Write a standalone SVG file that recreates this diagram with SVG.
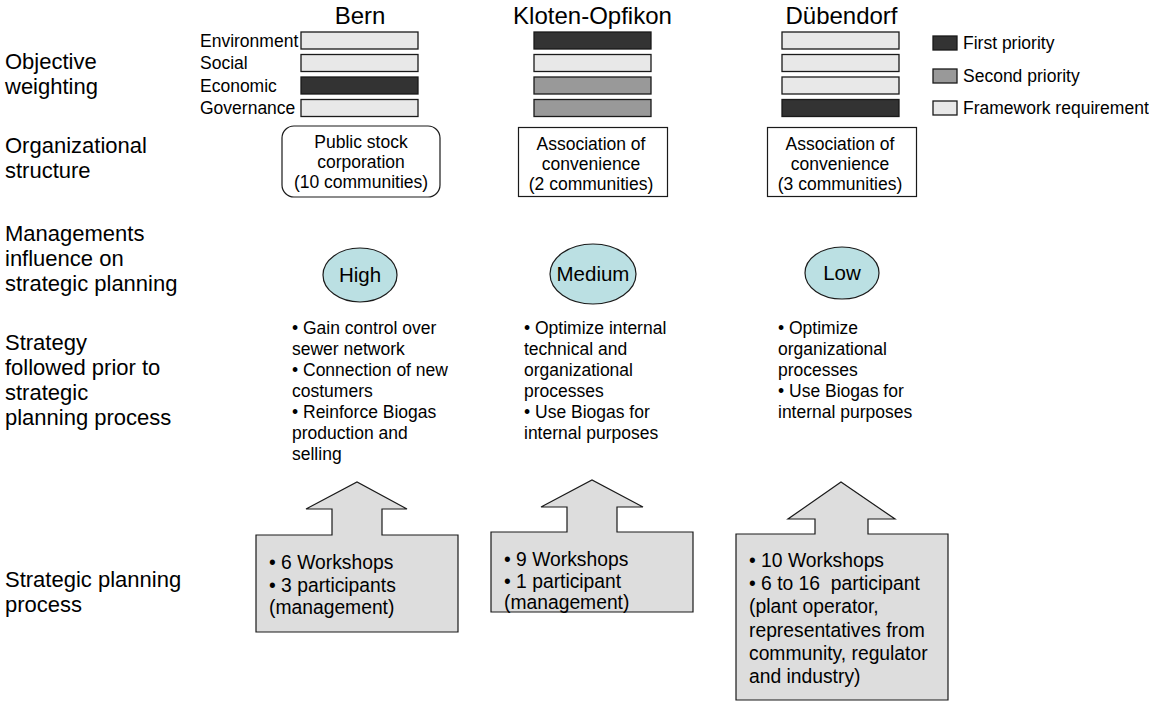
<svg xmlns="http://www.w3.org/2000/svg" width="1149" height="704" viewBox="0 0 1149 704">
  <style>
    text { font-family: "Liberation Sans", Arial, sans-serif; fill: #000; }
    .row { font-size: 22px; }
    .head { font-size: 24px; text-anchor: middle; }
    .lbl { font-size: 17.5px; }
    .body { font-size: 17.5px; }
    .mid { text-anchor: middle; }
    .big { font-size: 20.5px; text-anchor: middle; }
    .proc { font-size: 19.3px; }
    .bar { stroke: #1a1a1a; stroke-width: 1.3; }
    .p1 { fill: #333333; }
    .p2 { fill: #999999; }
    .p3 { fill: #e8e8e8; }
    .org { fill: #ffffff; stroke: #1a1a1a; stroke-width: 1.2; }
    .lvl { fill: #bbe0e3; stroke: #1a1a1a; stroke-width: 1.2; }
    .arrow { fill: #dddddd; stroke: #1a1a1a; stroke-width: 1.2; }
  </style>

  <!-- row headings -->
  <g id="row-labels" class="row">
    <text x="5" y="69">Objective</text>
    <text x="5" y="94">weighting</text>
    <text x="5" y="153">Organizational</text>
    <text x="5" y="178">structure</text>
    <text x="5" y="241">Managements</text>
    <text x="5" y="266">influence on</text>
    <text x="5" y="291">strategic planning</text>
    <text x="5" y="350">Strategy</text>
    <text x="5" y="375">followed prior to</text>
    <text x="5" y="400">strategic</text>
    <text x="5" y="425">planning process</text>
    <text x="5" y="587">Strategic planning</text>
    <text x="5" y="612">process</text>
  </g>

  <!-- objective names -->
  <g id="objective-labels" class="lbl">
    <text x="200" y="46.5">Environment</text>
    <text x="200" y="69">Social</text>
    <text x="200" y="91.5">Economic</text>
    <text x="200" y="114">Governance</text>
  </g>

  <!-- column headers -->
  <g id="headers" class="head">
    <text x="360" y="24">Bern</text>
    <text x="592.5" y="24">Kloten-Opfikon</text>
    <text x="841.5" y="24">Dübendorf</text>
  </g>

  <!-- weighting bars -->
  <g id="weights-bern">
    <rect class="bar p3" x="301" y="32" width="117" height="17"/>
    <rect class="bar p3" x="301" y="54.5" width="117" height="17"/>
    <rect class="bar p1" x="301" y="77" width="117" height="17"/>
    <rect class="bar p3" x="301" y="99.5" width="117" height="17"/>
  </g>
  <g id="weights-kloten">
    <rect class="bar p1" x="534" y="32" width="117" height="17"/>
    <rect class="bar p3" x="534" y="54.5" width="117" height="17"/>
    <rect class="bar p2" x="534" y="77" width="117" height="17"/>
    <rect class="bar p2" x="534" y="99.5" width="117" height="17"/>
  </g>
  <g id="weights-duebendorf">
    <rect class="bar p3" x="782" y="32" width="117" height="17"/>
    <rect class="bar p3" x="782" y="54.5" width="117" height="17"/>
    <rect class="bar p3" x="782" y="77" width="117" height="17"/>
    <rect class="bar p1" x="782" y="99.5" width="117" height="17"/>
  </g>

  <!-- legend -->
  <g id="legend" class="lbl">
    <rect class="bar p1" x="933" y="36" width="24" height="14"/>
    <text x="963" y="49">First priority</text>
    <rect class="bar p2" x="933" y="69" width="24" height="14"/>
    <text x="963" y="82">Second priority</text>
    <rect class="bar p3" x="933" y="101" width="24" height="14"/>
    <text x="963" y="114">Framework requirement</text>
  </g>

  <!-- organizational structure -->
  <g id="org-bern">
    <rect class="org" x="282" y="126" width="158" height="71" rx="12"/>
    <text class="body mid" x="361" y="148">Public stock</text>
    <text class="body mid" x="361" y="168">corporation</text>
    <text class="body mid" x="361" y="188">(10 communities)</text>
  </g>
  <g id="org-kloten">
    <rect class="org" x="518.5" y="127.5" width="149" height="69"/>
    <text class="body mid" x="591" y="150">Association of</text>
    <text class="body mid" x="591" y="170">convenience</text>
    <text class="body mid" x="591" y="190">(2 communities)</text>
  </g>
  <g id="org-duebendorf">
    <rect class="org" x="767.5" y="127.5" width="149" height="69"/>
    <text class="body mid" x="840" y="150">Association of</text>
    <text class="body mid" x="840" y="170">convenience</text>
    <text class="body mid" x="840" y="190">(3 communities)</text>
  </g>

  <!-- management influence -->
  <g id="influence-bern">
    <ellipse class="lvl" cx="360" cy="275" rx="37" ry="27"/>
    <text class="big" x="360" y="282">High</text>
  </g>
  <g id="influence-kloten">
    <ellipse class="lvl" cx="593" cy="274" rx="43" ry="30"/>
    <text class="big" x="593" y="281">Medium</text>
  </g>
  <g id="influence-duebendorf">
    <ellipse class="lvl" cx="842" cy="273" rx="37" ry="26"/>
    <text class="big" x="842" y="280">Low</text>
  </g>

  <!-- prior strategy -->
  <g id="strategy-bern" class="body">
    <text x="292" y="334">• Gain control over</text>
    <text x="292" y="355">sewer network</text>
    <text x="292" y="376">• Connection of new</text>
    <text x="292" y="397">costumers</text>
    <text x="292" y="418">• Reinforce Biogas</text>
    <text x="292" y="439">production and</text>
    <text x="292" y="460">selling</text>
  </g>
  <g id="strategy-kloten" class="body">
    <text x="524" y="334">• Optimize internal</text>
    <text x="524" y="355">technical and</text>
    <text x="524" y="376">organizational</text>
    <text x="524" y="397">processes</text>
    <text x="524" y="418">• Use Biogas for</text>
    <text x="524" y="439">internal purposes</text>
  </g>
  <g id="strategy-duebendorf" class="body">
    <text x="778" y="334">• Optimize</text>
    <text x="778" y="355">organizational</text>
    <text x="778" y="376">processes</text>
    <text x="778" y="397">• Use Biogas for</text>
    <text x="778" y="418">internal purposes</text>
  </g>

  <!-- strategic planning process: boxes with an upward arrow -->
  <g id="process-bern">
    <path class="arrow" d="M256,535 H332 V509 H306 L357,482 L407,509 H382 V535 H458 V632 H256 Z"/>
    <text class="proc" x="269" y="569">• 6 Workshops</text>
    <text class="proc" x="269" y="591.5">• 3 participants</text>
    <text class="proc" x="269" y="614">(management)</text>
  </g>
  <g id="process-kloten">
    <path class="arrow" d="M491,532 H567 V507 H541 L592,480 L643,507 H617 V532 H693 V612 H491 Z"/>
    <text class="proc" x="504" y="566">• 9 Workshops</text>
    <text class="proc" x="504" y="588">• 1 participant</text>
    <text class="proc" x="504" y="609">(management)</text>
  </g>
  <g id="process-duebendorf">
    <path class="arrow" d="M736,534 H815 V519 H788 L841,482 L895,519 H868 V534 H948 V700 H736 Z"/>
    <text class="proc" x="749" y="567">• 10 Workshops</text>
    <text class="proc" x="749" y="590">• 6 to 16&#160; participant</text>
    <text class="proc" x="749" y="613">(plant operator,</text>
    <text class="proc" x="749" y="636.5">representatives from</text>
    <text class="proc" x="749" y="660">community, regulator</text>
    <text class="proc" x="749" y="683">and industry)</text>
  </g>
</svg>
